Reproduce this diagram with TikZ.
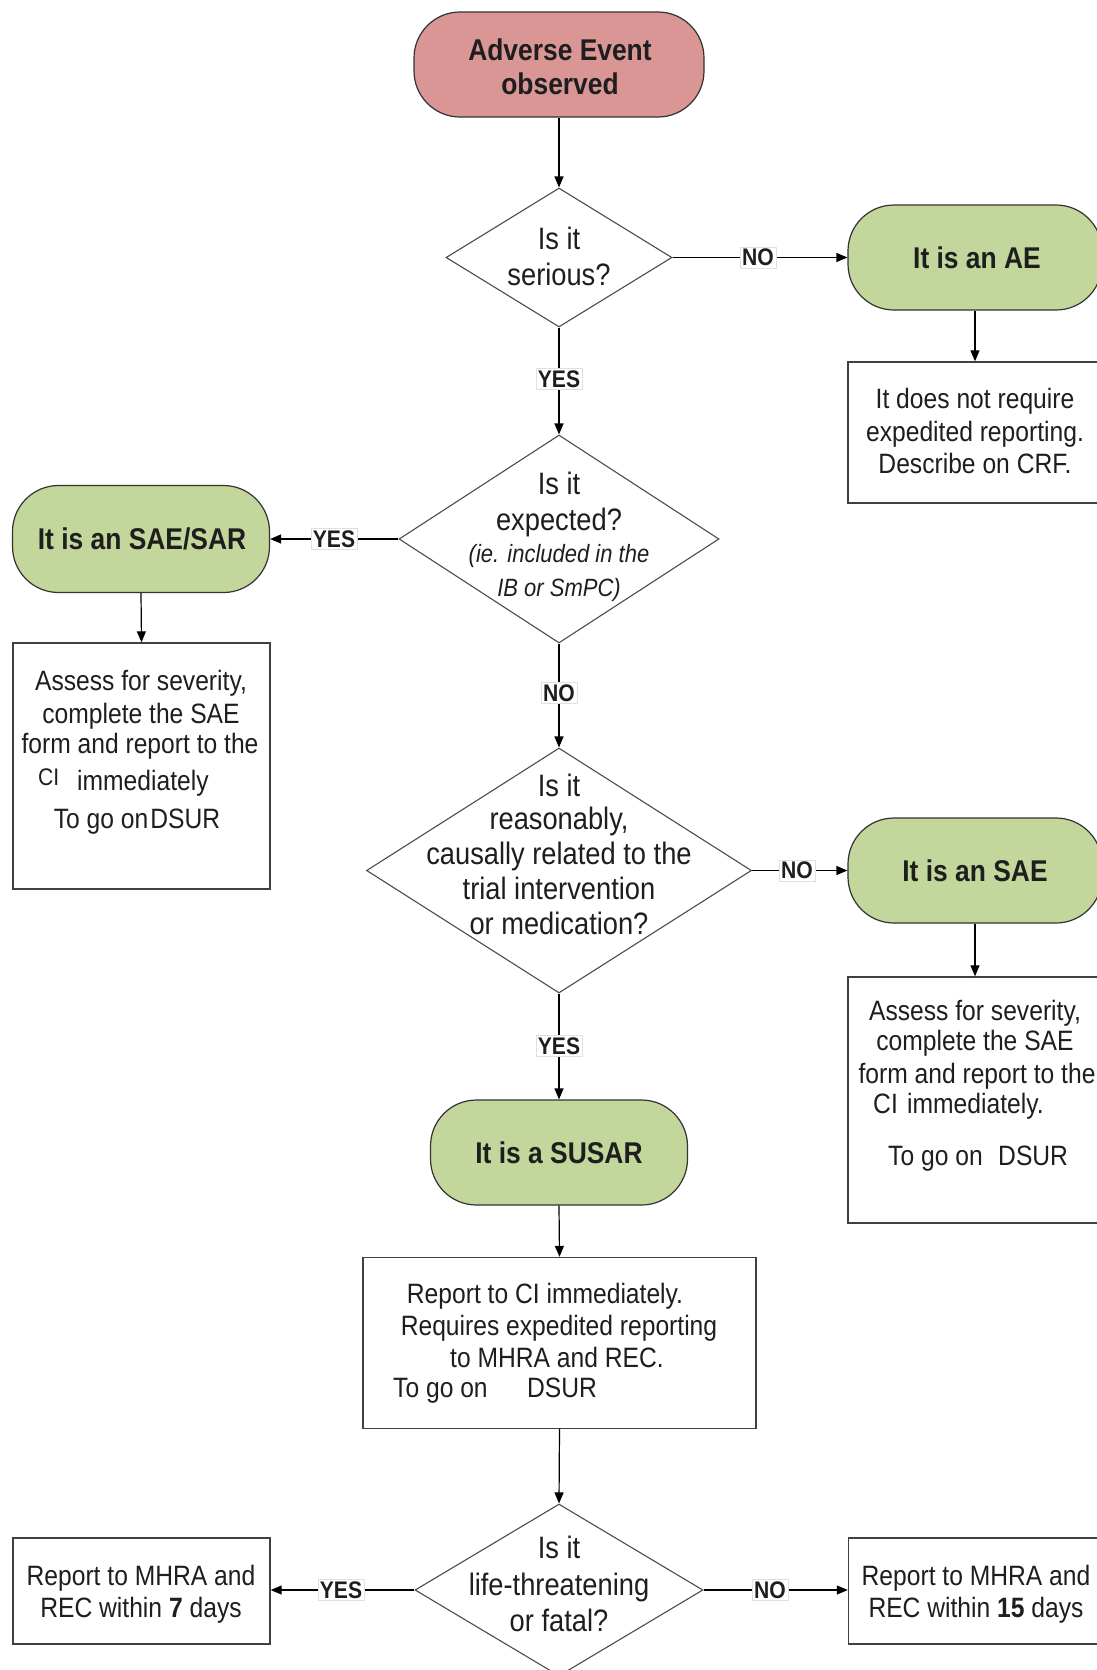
\documentclass[tikz,border=0pt]{standalone}
\usepackage{fontspec}
\setmainfont{Liberation Sans}[FakeStretch=0.88]
\usetikzlibrary{shapes.geometric,arrows.meta}
\definecolor{startred}{RGB}{217,150,148}
\definecolor{termgreen}{RGB}{195,214,155}
\definecolor{ink}{RGB}{30,30,30}
\begin{document}
\begin{tikzpicture}[x=1pt,y=-1pt,
  term/.style={rectangle, draw=black!80, line width=1.2pt, rounded corners=46pt, inner sep=0pt, minimum height=105pt},
  boxx/.style={rectangle, draw=black!75, line width=1.4pt, inner sep=0pt, fill=white},
  dia/.style={diamond, draw=black!70, line width=1.1pt, inner sep=0pt, fill=white},
  arr/.style={draw=black, line width=1.2pt, -{Triangle[length=11pt,width=9pt]}},
  lbl/.style={fill=white, draw=black!12, line width=0.6pt, inner sep=2pt, font=\fontsize{24}{24}\selectfont\bfseries, text=ink},
  tx/.style={inner sep=0pt, anchor=base, text=ink, font=\fontsize{28}{32}\selectfont},
  txw/.style={inner sep=0pt, anchor=base west, text=ink, font=\fontsize{28}{32}\selectfont},
  dtx/.style={inner sep=0pt, anchor=base, text=ink, font=\fontsize{31}{36}\selectfont},
  itx/.style={inner sep=0pt, anchor=base, text=ink, font=\fontsize{25}{30}\selectfont\itshape},
  btx/.style={inner sep=0pt, anchor=base, text=ink, font=\fontsize{30}{34}\selectfont\bfseries},
]
\path[use as bounding box, fill=white] (0,0) rectangle (1096,1670);

% shapes
\node[term, fill=startred, minimum width=290pt] (start) at (559,64.5) {};
\node[dia, minimum width=226pt, minimum height=139pt] (d1) at (559,257.5) {};
\node[term, fill=termgreen, minimum width=254pt] (ae) at (975,257.5) {};
\node[boxx, minimum width=254pt, minimum height=141pt] (aebox) at (975,432.5) {};
\node[dia, minimum width=320pt, minimum height=208pt] (d2) at (559,539) {};
\node[term, fill=termgreen, minimum width=257pt, minimum height=107pt] (sar) at (141,539) {};
\node[boxx, minimum width=257pt, minimum height=246pt] (sarbox) at (141.5,766) {};
\node[dia, minimum width=385pt, minimum height=245pt] (d3) at (559,870.5) {};
\node[term, fill=termgreen, minimum width=254pt] (sae) at (975,870.5) {};
\node[boxx, minimum width=254pt, minimum height=246pt] (saebox) at (975,1100) {};
\node[term, fill=termgreen, minimum width=257pt] (susar) at (559,1152.5) {};
\node[boxx, minimum width=393pt, minimum height=171pt] (rep) at (559.5,1343) {};
\node[dia, minimum width=288pt, minimum height=172pt] (d4) at (559,1590) {};
\node[boxx, minimum width=257pt, minimum height=106pt] (b7) at (141.5,1591) {};
\node[boxx, minimum width=254pt, minimum height=106pt] (b15) at (975.5,1591) {};

% connectors
\draw[arr] (start.south) -- (d1.north);
\draw[arr] (d1.east) -- (ae.west);
\draw[arr] (ae.south) -- (aebox.north);
\draw[arr] (d1.south) -- (d2.north);
\draw[arr] (d2.west) -- (sar.east);
\draw[arr] (sar.south) -- (sarbox.north);
\draw[arr] (d2.south) -- (d3.north);
\draw[arr] (d3.east) -- (sae.west);
\draw[arr] (sae.south) -- (saebox.north);
\draw[arr] (d3.south) -- (susar.north);
\draw[arr] (susar.south) -- (rep.north);
\draw[arr] (rep.south) -- (d4.north);
\draw[arr] (d4.west) -- (b7.east |- d4.west);
\draw[arr] (d4.east) -- (b15.west |- d4.east);

% connector labels
\node[lbl] (lno1) at (758,257.5) {NO};
\node[lbl] (lyes1) at (559,379) {YES};
\node[lbl] (lyes2) at (334,539) {YES};
\node[lbl] (lno2) at (559,693) {NO};
\node[lbl] (lno3) at (797,870.5) {NO};
\node[lbl] (lyes3) at (559,1046) {YES};
\node[lbl] (lyes4) at (341,1590) {YES};
\node[lbl] (lno4) at (770,1590) {NO};

% texts
\node[btx] (s1) at (560,61) {Adverse Event};
\node[btx] (s2) at (560,95) {observed};

\node[dtx] (q1a) at (559,249) {Is it};
\node[dtx] (q1b) at (559,285) {serious?};

\node[btx] (aet) at (977,268) {It is an AE};
\node[tx] (ae1) at (975,408) {It does not require};
\node[tx] (ae2) at (975,441) {expedited reporting.};
\node[tx] (ae3) at (975,473) {Describe on CRF.};

\node[dtx] (q2a) at (559,494) {Is it};
\node[dtx] (q2b) at (559,530) {expected?};
\node[itx] (q2c) at (559,562) {(ie. included in the};
\node[itx] (q2d) at (559,596) {IB or SmPC)};

\node[btx] (sart) at (142,549) {It is an\ SAE/SAR};
\node[tx] (sa1) at (141,690) {Assess for severity,};
\node[tx] (sa2) at (141,723) {complete the SAE};
\node[tx] (sa3) at (140,753) {form and report to the};
\node[txw, font=\fontsize{24}{28}\selectfont] (sa4) at (38,785) {CI};
\node[txw] (sa5) at (77,790) {immediately};
\node[tx] (sa6) at (137,828) {To go on\hspace{2pt}DSUR};

\node[dtx] (q3a) at (559,796) {Is it};
\node[dtx] (q3b) at (559,829) {reasonably,};
\node[dtx] (q3c) at (559,864) {causally related to the};
\node[dtx] (q3d) at (559,899) {trial intervention};
\node[dtx] (q3e) at (559,934) {or medication?};

\node[btx] (saet) at (975,881) {It is an SAE};
\node[tx] (sb1) at (975,1020) {Assess for severity,};
\node[tx] (sb2) at (975,1050) {complete the SAE};
\node[tx] (sb3) at (977,1083) {form and report to the};
\node[txw] (sb4) at (873,1113) {CI};
\node[txw] (sb5) at (907,1113) {immediately.};
\node[txw] (sb6) at (888,1165) {To go on};
\node[txw] (sb7) at (998,1165) {DSUR};

\node[btx] (sust) at (559,1163) {It is a SUSAR};
\node[tx] (r1) at (545,1303) {Report to CI immediately.};
\node[tx] (r2) at (559,1335) {Requires expedited reporting};
\node[tx] (r3) at (557,1367) {to MHRA and REC.};
\node[txw] (r4) at (393,1397) {To go on};
\node[txw] (r5) at (527,1397) {DSUR};

\node[dtx] (q4a) at (559,1558) {Is it};
\node[dtx] (q4b) at (559,1595) {life-threatening};
\node[dtx] (q4c) at (559,1631) {or fatal?};

\node[tx] (f1) at (141,1585) {Report to MHRA and};
\node[tx] (f2) at (141,1617) {REC within \textbf{7} days};
\node[tx] (g1) at (976,1585) {Report to MHRA and};
\node[tx] (g2) at (976,1617) {REC within \textbf{15} days};
\end{tikzpicture}
\end{document}
